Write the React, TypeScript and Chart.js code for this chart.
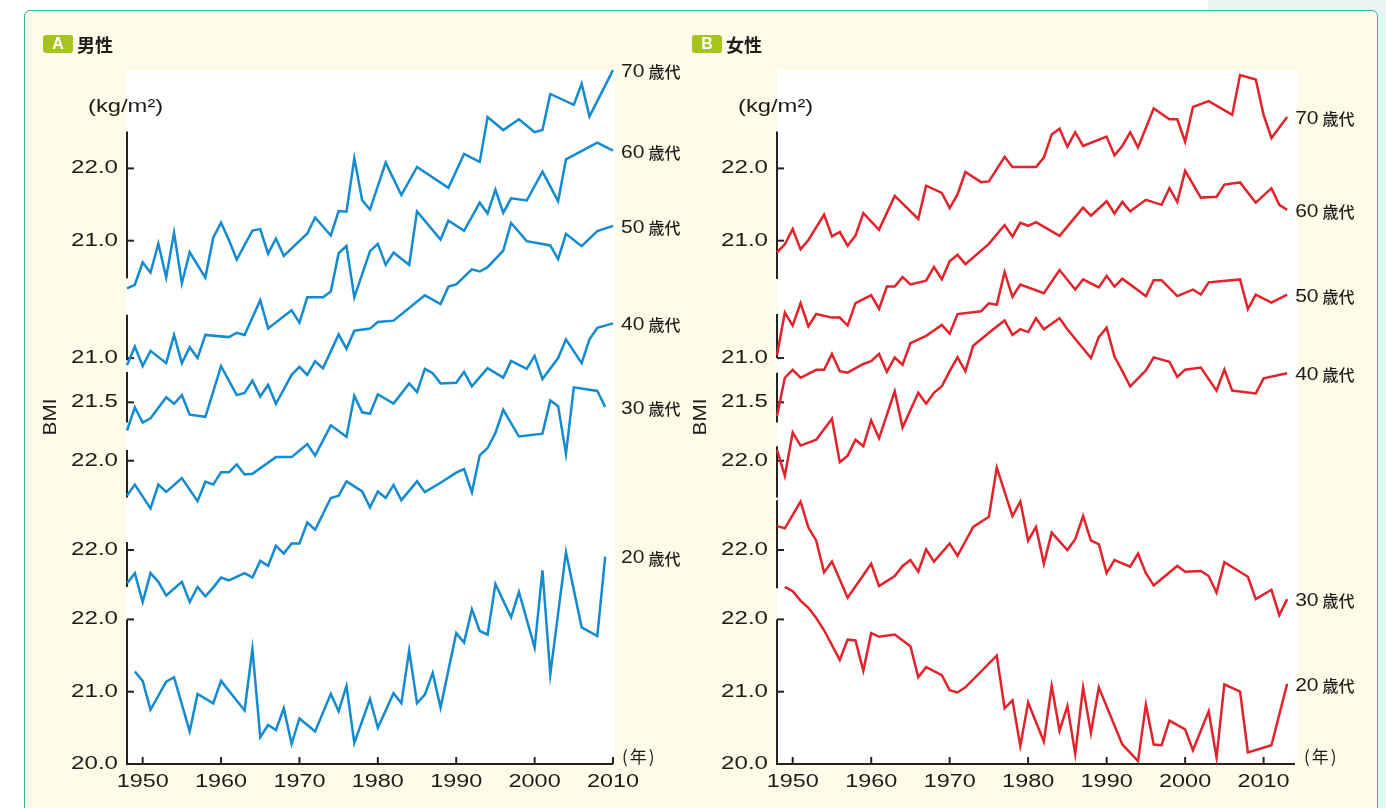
import React, { useEffect, useRef } from 'react';
import { Chart, registerables } from 'chart.js';

Chart.register(...registerables);

// ---------- data (year, BMI kg/m2) ----------
const MALE_20 = [[1949,21.28],[1950,21.15],[1951,20.75],[1953,21.14],[1954,21.20],[1956,20.45],[1957,20.97],[1959,20.84],[1960,21.15],[1963,20.74],[1964,21.59],[1965,20.37],[1966,20.54],[1967,20.47],[1968,20.77],[1969,20.28],[1970,20.63],[1972,20.45],[1974,20.97],[1975,20.73],[1976,21.08],[1977,20.29],[1979,20.90],[1980,20.50],[1982,20.98],[1983,20.84],[1984,21.57],[1985,20.84],[1986,20.96],[1987,21.26],[1988,20.78],[1990,21.81],[1991,21.68],[1992,22.14],[1993,21.84],[1994,21.79],[1995,22.49],[1997,22.03],[1998,22.38],[2000,21.61],[2001,22.68],[2002,21.24],[2004,22.93],[2006,21.89],[2008,21.77],[2009,22.87]];
const MALE_30 = [[1948,21.54],[1949,21.68],[1950,21.28],[1951,21.68],[1952,21.56],[1953,21.37],[1955,21.56],[1956,21.28],[1957,21.49],[1958,21.36],[1959,21.48],[1960,21.62],[1961,21.58],[1963,21.68],[1964,21.62],[1965,21.85],[1966,21.78],[1967,22.06],[1968,21.95],[1969,22.09],[1970,22.09],[1971,22.38],[1972,22.28],[1974,22.72],[1975,22.75],[1976,22.95],[1978,22.81],[1979,22.59],[1980,22.81],[1981,22.72],[1982,22.90],[1983,22.69],[1985,22.95],[1986,22.80],[1988,22.93],[1990,23.07],[1991,23.12],[1992,22.80],[1993,23.31],[1994,23.41],[1995,23.62],[1996,23.94],[1998,23.57],[2001,23.61],[2002,24.07],[2003,23.99],[2004,23.33],[2005,24.25],[2008,24.20],[2009,23.98]];
const MALE_40 = [[1948,21.52],[1949,21.67],[1951,21.34],[1952,21.67],[1953,21.57],[1955,21.76],[1957,21.44],[1958,21.71],[1959,21.67],[1960,21.84],[1961,21.84],[1962,21.95],[1963,21.81],[1964,21.82],[1967,22.05],[1969,22.05],[1971,22.23],[1972,22.07],[1974,22.49],[1976,22.33],[1977,22.90],[1978,22.67],[1979,22.65],[1980,22.92],[1982,22.79],[1984,23.07],[1985,22.95],[1986,23.27],[1987,23.21],[1988,23.07],[1990,23.08],[1991,23.23],[1992,23.03],[1994,23.28],[1996,23.15],[1997,23.38],[1999,23.27],[2000,23.45],[2001,23.13],[2003,23.42],[2004,23.68],[2006,23.35],[2007,23.68],[2008,23.84],[2010,23.90]];
const MALE_50 = [[1948,21.11],[1949,21.43],[1950,21.22],[1951,21.28],[1953,21.57],[1954,21.48],[1955,21.60],[1956,21.33],[1958,21.30],[1960,22.00],[1962,21.60],[1963,21.63],[1964,21.80],[1965,21.58],[1966,21.74],[1967,21.48],[1969,21.88],[1970,21.99],[1971,21.88],[1972,22.07],[1973,21.97],[1975,22.44],[1976,22.24],[1977,22.49],[1979,22.52],[1980,22.61],[1982,22.63],[1986,22.98],[1988,22.86],[1989,23.10],[1990,23.13],[1992,23.34],[1993,23.31],[1994,23.37],[1996,23.60],[1997,23.98],[1999,23.73],[2002,23.67],[2003,23.48],[2004,23.83],[2006,23.66],[2008,23.87],[2010,23.94]];
const MALE_60 = [[1948,20.90],[1949,21.16],[1950,20.89],[1951,21.10],[1953,20.93],[1954,21.32],[1955,20.93],[1956,21.15],[1957,21.00],[1958,21.32],[1961,21.29],[1962,21.35],[1963,21.32],[1965,21.80],[1966,21.41],[1969,21.66],[1970,21.49],[1971,21.84],[1973,21.84],[1974,21.92],[1975,22.45],[1976,22.55],[1977,21.84],[1979,22.48],[1980,22.58],[1981,22.29],[1982,22.46],[1984,22.29],[1985,23.03],[1988,22.64],[1989,22.90],[1991,22.76],[1993,23.15],[1994,23.00],[1995,23.33],[1996,23.01],[1997,23.21],[1999,23.18],[2001,23.58],[2003,23.17],[2004,23.75],[2008,23.98],[2010,23.87]];
const MALE_70 = [[1948,20.34],[1949,20.39],[1950,20.70],[1951,20.56],[1952,20.96],[1953,20.49],[1954,21.11],[1955,20.41],[1956,20.84],[1958,20.49],[1959,21.04],[1960,21.25],[1961,21.01],[1962,20.74],[1964,21.14],[1965,21.16],[1966,20.82],[1967,21.03],[1968,20.79],[1971,21.10],[1972,21.32],[1974,21.07],[1975,21.41],[1976,21.40],[1977,22.14],[1978,21.56],[1979,21.43],[1981,22.08],[1983,21.63],[1985,22.02],[1989,21.73],[1991,22.20],[1993,22.09],[1994,22.71],[1996,22.53],[1998,22.68],[2000,22.50],[2001,22.53],[2002,23.03],[2005,22.88],[2006,23.17],[2007,22.72],[2010,23.36]];

const FEMALE_20 = [[1949,22.45],[1950,22.39],[1951,22.26],[1952,22.16],[1953,22.02],[1954,21.85],[1956,21.44],[1957,21.72],[1958,21.71],[1959,21.29],[1960,21.81],[1961,21.76],[1963,21.79],[1965,21.63],[1966,21.20],[1967,21.34],[1969,21.23],[1970,21.02],[1971,20.99],[1972,21.06],[1976,21.50],[1977,20.77],[1978,20.88],[1979,20.25],[1980,20.85],[1982,20.31],[1983,21.08],[1984,20.46],[1985,20.80],[1986,20.14],[1987,21.06],[1988,20.43],[1989,21.06],[1992,20.27],[1994,20.04],[1995,20.82],[1996,20.27],[1997,20.26],[1998,20.60],[2000,20.48],[2001,20.19],[2003,20.73],[2004,20.09],[2005,21.10],[2007,21.00],[2008,20.16],[2011,20.26],[2013,21.11]];
const FEMALE_30 = [[1948,22.33],[1949,22.30],[1951,22.67],[1952,22.31],[1953,22.13],[1954,21.69],[1955,21.84],[1957,21.34],[1960,21.81],[1961,21.50],[1963,21.64],[1964,21.78],[1965,21.86],[1966,21.70],[1967,22.01],[1968,21.84],[1970,22.09],[1971,21.92],[1973,22.32],[1975,22.46],[1976,23.14],[1978,22.47],[1979,22.67],[1980,22.13],[1981,22.32],[1982,21.81],[1983,22.24],[1985,22.00],[1986,22.15],[1987,22.47],[1988,22.13],[1989,22.08],[1990,21.68],[1991,21.86],[1993,21.77],[1994,21.95],[1995,21.68],[1996,21.51],[1999,21.78],[2000,21.70],[2002,21.71],[2003,21.64],[2004,21.41],[2005,21.83],[2008,21.63],[2009,21.32],[2011,21.45],[2012,21.10],[2013,21.32]];
const FEMALE_40 = [[1948,22.15],[1949,21.79],[1950,22.39],[1951,22.21],[1953,22.29],[1955,22.58],[1956,21.98],[1957,22.07],[1958,22.29],[1959,22.20],[1960,22.56],[1961,22.31],[1963,22.96],[1964,22.46],[1966,22.94],[1967,22.79],[1968,22.94],[1969,23.03],[1970,23.24],[1971,23.43],[1972,23.24],[1973,23.59],[1975,23.77],[1977,23.94],[1978,23.74],[1979,23.82],[1980,23.78],[1981,23.97],[1982,23.82],[1984,23.97],[1985,23.82],[1988,23.42],[1989,23.71],[1990,23.84],[1991,23.44],[1992,23.24],[1993,23.03],[1995,23.25],[1996,23.43],[1998,23.37],[1999,23.16],[2000,23.26],[2002,23.29],[2004,22.97],[2005,23.26],[2006,22.97],[2009,22.93],[2010,23.14],[2013,23.21]];
const FEMALE_50 = [[1948,21.31],[1949,21.84],[1950,21.95],[1951,21.84],[1953,21.95],[1954,21.95],[1955,22.17],[1956,21.93],[1957,21.91],[1959,22.03],[1960,22.07],[1961,22.17],[1962,21.92],[1963,22.12],[1964,22.02],[1965,22.32],[1967,22.42],[1969,22.57],[1970,22.45],[1971,22.72],[1974,22.76],[1975,22.87],[1976,22.85],[1977,23.30],[1978,22.96],[1979,23.13],[1982,23.01],[1984,23.33],[1986,23.06],[1987,23.20],[1989,23.09],[1990,23.25],[1991,23.10],[1992,23.21],[1995,22.97],[1996,23.19],[1997,23.19],[1999,22.97],[2001,23.06],[2002,22.99],[2003,23.16],[2007,23.20],[2008,22.79],[2009,22.99],[2011,22.88],[2013,22.99]];
const FEMALE_60 = [[1948,21.04],[1949,21.63],[1950,21.45],[1951,21.76],[1952,21.44],[1953,21.61],[1955,21.56],[1956,21.56],[1957,21.45],[1958,21.76],[1960,21.87],[1961,21.68],[1962,21.99],[1963,21.99],[1964,22.12],[1965,22.02],[1967,22.07],[1968,22.26],[1969,22.09],[1970,22.34],[1971,22.43],[1972,22.30],[1975,22.58],[1977,22.84],[1978,22.68],[1979,22.87],[1980,22.83],[1981,22.88],[1984,22.69],[1987,23.08],[1988,22.97],[1990,23.17],[1991,23.00],[1992,23.16],[1993,23.03],[1995,23.19],[1997,23.12],[1998,23.35],[1999,23.16],[2000,23.59],[2002,23.22],[2004,23.23],[2005,23.40],[2007,23.43],[2009,23.15],[2011,23.35],[2012,23.12],[2013,23.05]];
const FEMALE_70 = [[1948,20.84],[1949,20.95],[1950,21.16],[1951,20.88],[1952,21.01],[1954,21.36],[1955,21.06],[1956,21.12],[1957,20.93],[1958,21.07],[1959,21.38],[1961,21.15],[1963,21.62],[1966,21.30],[1967,21.76],[1969,21.66],[1970,21.45],[1971,21.64],[1972,21.95],[1974,21.81],[1975,21.82],[1977,22.16],[1978,22.02],[1981,22.02],[1982,22.15],[1983,22.47],[1984,22.55],[1985,22.30],[1986,22.50],[1987,22.31],[1990,22.44],[1991,22.18],[1992,22.31],[1993,22.50],[1994,22.29],[1996,22.83],[1998,22.68],[1999,22.68],[2000,22.37],[2001,22.85],[2003,22.93],[2006,22.74],[2007,23.29],[2009,23.23],[2010,22.74],[2011,22.42],[2013,22.71]];

const YEAR_TICKS = [1950, 1960, 1970, 1980, 1990, 2000, 2010];
const AGE_GROUPS = ['20', '30', '40', '50', '60', '70'];
const AGE_SUFFIX = '歳代';
// vertical shift of each age band on the shared (broken) BMI axis
const GROUP_OFFSETS = [0, 0.96, 2.195, 3.503, 4.615, 6.239];
const GROUP_TICKS = [[20, 21, 22], [22], [22], [21.5], [21], [21, 22]];
const MALE_AXIS_SEGMENTS = [[20, 22], [21.49, 22.11], [21.49, 22.15], [21.22, 21.92], [20.97, 21.6], [20.48, 22.51]];
const FEMALE_AXIS_SEGMENTS = [[20, 22], [21.47, 22.69], [21.49, 22.2], [21.22, 21.91], [21.0, 21.61], [20.47, 22.51]];
const Y_MIN = 20;
const Y_MAX = 29.6;

const BLUE = '#138bd0';
const RED = '#e3232c';
const INK = '#1e1b1a';
const AXIS = '#262222';
const LATIN = '"Liberation Sans", Arial, sans-serif';
const NUM_FONT = '18px ' + LATIN;
const CJK_FONT = '500 16px "Noto Sans CJK JP", sans-serif';

type Panel = {
  series: number[][][];
  segments: number[][];
  color: string;
  xMax: number;
  padding: { left: number; right: number; top: number; bottom: number };
};

const PANELS: Panel[] = [
  { series: [MALE_20, MALE_30, MALE_40, MALE_50, MALE_60, MALE_70], segments: MALE_AXIS_SEGMENTS, color: BLUE, xMax: 2010, padding: { left: 127, right: 80, top: 70, bottom: 44 } },
  { series: [FEMALE_20, FEMALE_30, FEMALE_40, FEMALE_50, FEMALE_60, FEMALE_70], segments: FEMALE_AXIS_SEGMENTS, color: RED, xMax: 2014, padding: { left: 84, right: 91, top: 70, bottom: 44 } },
];

// text drawn with an optional horizontal stretch (the source uses a wide grotesque)
function drawText(ctx: CanvasRenderingContext2D, s: string, x: number, y: number, font: string, align: CanvasTextAlign = 'left', sx = 1, spacing = 0) {
  ctx.save();
  ctx.font = font;
  ctx.textAlign = align;
  ctx.textBaseline = 'middle';
  ctx.fillStyle = INK;
  let dx = 0;
  if (spacing && 'letterSpacing' in ctx) {
    (ctx as any).letterSpacing = spacing + 'px';
    if (align === 'right') dx = spacing;
    else if (align === 'center') dx = spacing / 2;
  }
  ctx.translate(x, y);
  ctx.scale(sx, 1);
  ctx.fillText(s, dx, 0);
  const w = ctx.measureText(s).width * sx;
  ctx.restore();
  return w;
}

function line(ctx: CanvasRenderingContext2D, x1: number, y1: number, x2: number, y2: number) {
  ctx.beginPath();
  ctx.moveTo(x1, y1);
  ctx.lineTo(x2, y2);
  ctx.stroke();
}

function makePlugin(panel: Panel) {
  return {
    id: 'bmiDecor',
    beforeDatasetsDraw(chart: any) {
      const { ctx, chartArea: a, scales } = chart;
      const xs = scales.x;
      const ys = scales.y;
      ctx.save();
      ctx.fillStyle = '#ffffff';
      ctx.fillRect(a.left, a.top, a.right - a.left + 2, a.bottom - a.top);
      ctx.strokeStyle = AXIS;
      ctx.lineWidth = 2;
      panel.segments.forEach(([lo, hi], i) => {
        const off = GROUP_OFFSETS[i];
        line(ctx, a.left, ys.getPixelForValue(lo + off), a.left, ys.getPixelForValue(hi + off));
        GROUP_TICKS[i].forEach((t) => {
          const ty = ys.getPixelForValue(t + off);
          line(ctx, a.left, ty, a.left + 7, ty);
          drawText(ctx, t.toFixed(1), a.left - 9, ty, NUM_FONT, 'right', 1.34);
        });
      });
      line(ctx, a.left - 1, a.bottom, a.right, a.bottom);
      YEAR_TICKS.forEach((t) => {
        const tx = xs.getPixelForValue(t);
        line(ctx, tx, a.bottom, tx, a.bottom - 7);
        drawText(ctx, String(t), tx, a.bottom + 18, NUM_FONT, 'center', 1.3);
      });
      ctx.restore();
    },
    afterDatasetsDraw(chart: any) {
      const { ctx, chartArea: a, scales } = chart;
      const xs = scales.x;
      const ys = scales.y;
      const lastX = Math.max(...panel.series.map((s) => xs.getPixelForValue(s[s.length - 1][0])));
      const lx = lastX + 8;
      panel.series.forEach((s, i) => {
        const last = s[s.length - 1];
        const ly = ys.getPixelForValue(last[1] + GROUP_OFFSETS[i]) + 2;
        const w = drawText(ctx, AGE_GROUPS[i], lx, ly, '18px ' + LATIN, 'left', 1.17);
        drawText(ctx, AGE_SUFFIX, lx + w + 4, ly, CJK_FONT, 'left');
      });
      drawText(ctx, '(年)', a.right + 9, a.bottom - 7, '17px "Noto Sans CJK JP", sans-serif', 'left', 1, 2);
      drawText(ctx, '(kg/m²)', a.left - 39, a.top + 37, '19px ' + LATIN, 'left', 1.25);
      ctx.save();
      ctx.translate(a.left - 76, 417);
      ctx.rotate(-Math.PI / 2);
      drawText(ctx, 'BMI', 0, 0, '18px ' + LATIN, 'center', 1.15);
      ctx.restore();
    },
  };
}

function PanelChart({ panel, left }: { panel: Panel; left: number }) {
  const ref = useRef<HTMLCanvasElement | null>(null);
  useEffect(() => {
    if (!ref.current) return;
    const chart = new Chart(ref.current, {
      type: 'line',
      data: {
        datasets: panel.series.map((s, i) => ({
          data: s.map(([yr, v]) => ({ x: yr, y: v + GROUP_OFFSETS[i] })),
          borderColor: panel.color,
          borderWidth: 2.5,
          pointRadius: 0,
          fill: false,
          tension: 0,
          clip: false as any,
        })),
      },
      options: {
        animation: false,
        responsive: false,
        events: [],
        layout: { padding: panel.padding },
        plugins: { legend: { display: false }, tooltip: { enabled: false }, title: { display: false } },
        scales: {
          x: { type: 'linear', min: 1948, max: panel.xMax, display: false },
          y: { type: 'linear', min: Y_MIN, max: Y_MAX, display: false },
        },
      },
      plugins: [makePlugin(panel) as any],
    });
    return () => chart.destroy();
  }, [panel]);
  return <canvas ref={ref} width={693} height={808} style={{ position: 'absolute', left, top: 0, width: 693, height: 808 }} />;
}

function Header({ left, badge, title }: { left: number; badge: string; title: string }) {
  return (
    <>
      <div style={{ position: 'absolute', left, top: 35, width: 30, height: 18, background: '#a6c41c', borderRadius: 3, color: '#fff', font: 'bold 16px "Liberation Sans", sans-serif', lineHeight: '18px', textAlign: 'center' }}>{badge}</div>
      <div style={{ position: 'absolute', left: left + 34, top: 34, height: 20, font: 'bold 18px "Noto Sans CJK JP", sans-serif', lineHeight: '20px', color: INK }}>{title}</div>
    </>
  );
}

export default function App() {
  return (
    <div style={{ position: 'absolute', left: 0, top: 0, width: 1386, height: 808, overflow: 'hidden', background: '#ffffff' }}>
      <div style={{ position: 'absolute', left: 1208, top: 0, right: 0, bottom: 0, background: '#e9f5f2' }} />
      <div style={{ position: 'absolute', left: 24, top: 10, width: 1354, height: 840, background: '#fefbe8', border: '1.5px solid #33b5a5', borderRadius: 6, boxSizing: 'border-box' }} />
      <PanelChart panel={PANELS[0]} left={0} />
      <PanelChart panel={PANELS[1]} left={693} />
      <Header left={43} badge="A" title="男性" />
      <Header left={692} badge="B" title="女性" />
    </div>
  );
}
